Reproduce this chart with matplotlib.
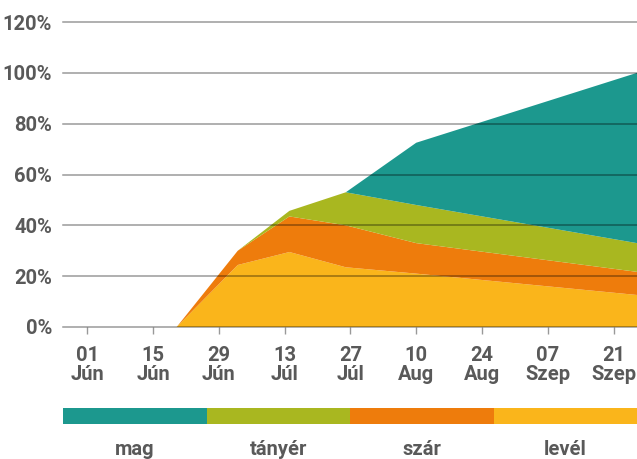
import numpy as np
import matplotlib
matplotlib.use("Agg")
import matplotlib.pyplot as plt

plt.rcParams['font.family'] = ['Roboto', 'DejaVu Sans']
plt.rcParams['font.weight'] = 'bold'

# days counted from 1 June
days = [19, 32, 43, 55, 70, 117]

# share of each plant part (%), stacked bottom to top
level = [0, 24.4, 29.5, 23.5, 21.0, 12.6]
szar = [0, 5.6, 14.0, 16.5, 12.0, 9.1]
tanyer = [0, 0, 2.2, 13.0, 15.0, 11.3]
mag = [0, 0, 0, 0, 24.5, 67.0]

series_names = ['levél', 'szár', 'tányér', 'mag']
colors = ['#fab51b', '#ee7c0c', '#a9b720', '#1c988e']

tick_days = [0, 14, 28, 42, 56, 70, 84, 98, 112]
tick_labels = ['01\nJún', '15\nJún', '29\nJún', '13\nJúl', '27\nJúl',
               '10\nAug', '24\nAug', '07\nSzep', '21\nSzep']
y_ticks = [0, 20, 40, 60, 80, 100, 120]

text_color = '#595959'

fig = plt.figure(figsize=(6.37, 4.59), dpi=100)
ax = fig.add_axes([63 / 637, 1 - 327 / 459, 574 / 637, 305 / 459])

ax.stackplot(days, level, szar, tanyer, mag, colors=colors, linewidth=0)

# horizontal grid drawn over the areas
for y in y_ticks:
    ax.axhline(y, color='black', alpha=0.4, linewidth=1.1, zorder=5, clip_on=False)

ax.set_xlim(-5.2, 117)
ax.set_ylim(0, 120)
for s in ax.spines.values():
    s.set_visible(False)

ax.set_yticks(y_ticks)
ax.set_yticklabels([f'{v}%' for v in y_ticks])
ax.set_xticks(tick_days)
ax.set_xticklabels(tick_labels, linespacing=1.0)
ax.tick_params(axis='y', length=0, pad=8, labelsize=14.5, labelcolor=text_color)
ax.tick_params(axis='x', length=5, width=1, color='#999999', pad=9,
               labelsize=14.5, labelcolor=text_color)

# legend as a segmented colour bar with names underneath
lax = fig.add_axes([63 / 637, 1 - 424 / 459, 574 / 637, 16 / 459])
legend_order = ['mag', 'tányér', 'szár', 'levél']
legend_colors = ['#1c988e', '#a9b720', '#ee7c0c', '#fab51b']
for i, (name, c) in enumerate(zip(legend_order, legend_colors)):
    lax.barh(0.5, 1, left=i, height=1, color=c, linewidth=0)
    lax.text(i + 0.5, -1.6, name, ha='center', va='center', fontsize=14.5,
             color=text_color, clip_on=False)
lax.set_xlim(0, 4)
lax.set_ylim(0, 1)
lax.axis('off')

fig.savefig('out.png', dpi=100)
